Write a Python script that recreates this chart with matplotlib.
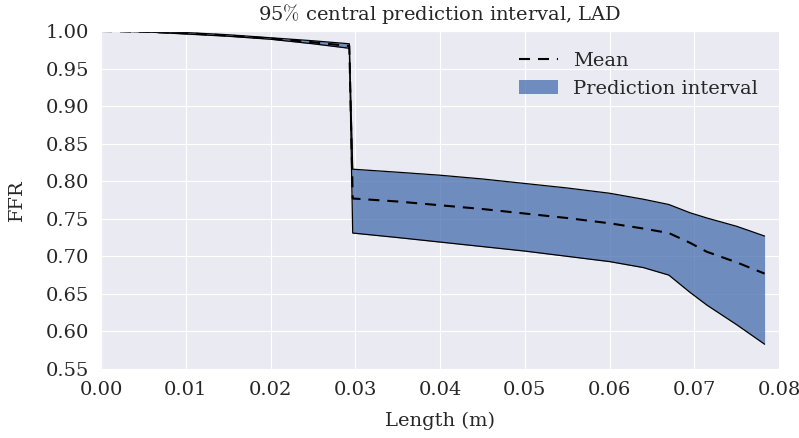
import numpy as np
import matplotlib.pyplot as plt
import seaborn as sns

# FFR along the vessel length: mean and 95% interval bounds
length = [0.0, 0.005, 0.01, 0.015, 0.02, 0.025, 0.0293, 0.0297, 0.035, 0.04,
          0.045, 0.05, 0.055, 0.06, 0.064, 0.067, 0.0695, 0.0715, 0.075, 0.0783]
ffr_mean = [1.0, 0.999, 0.997, 0.994, 0.990, 0.985, 0.980, 0.777, 0.773, 0.768,
            0.763, 0.757, 0.751, 0.744, 0.737, 0.731, 0.718, 0.706, 0.692, 0.677]
ffr_upper = [1.0, 0.999, 0.998, 0.995, 0.991, 0.987, 0.983, 0.816, 0.812, 0.808,
             0.803, 0.797, 0.791, 0.784, 0.776, 0.769, 0.758, 0.751, 0.740, 0.727]
ffr_lower = [1.0, 0.999, 0.996, 0.993, 0.989, 0.983, 0.977, 0.731, 0.725, 0.719,
             0.713, 0.707, 0.700, 0.693, 0.685, 0.675, 0.652, 0.635, 0.609, 0.583]

sns.set_style("darkgrid")
plt.rcParams['font.family'] = ['DejaVu Serif']
plt.rcParams['mathtext.fontset'] = 'cm'

fig = plt.figure(figsize=(7.99, 4.38), dpi=100)
ax = fig.add_axes([101 / 799, 1 - 369 / 438, 678 / 799, 338 / 438])

ax.fill_between(length, ffr_lower, ffr_upper, color='#4C72B0', alpha=0.78,
                linewidth=0, label='Prediction interval')
ax.plot(length, ffr_upper, color='black', linewidth=0.9)
ax.plot(length, ffr_lower, color='black', linewidth=0.9)
ax.plot(length, ffr_mean, color='black', linestyle=(0, (5.3, 3.8)), linewidth=1.5,
        label='Mean')

ax.set_xlim(0, 0.08)
ax.set_ylim(0.55, 1.0)
ax.set_xticks(np.arange(0, 0.081, 0.01))
ax.set_yticks(np.arange(0.55, 1.001, 0.05))
ax.xaxis.set_major_formatter(plt.FormatStrFormatter('%.2f'))
ax.yaxis.set_major_formatter(plt.FormatStrFormatter('%.2f'))
ax.tick_params(labelsize=14, direction='out', length=1.5, pad=7, color='#555555')

ax.set_xlabel('Length (m)', fontsize=14, labelpad=9)
ax.set_ylabel('FFR', fontsize=14, labelpad=14)
ax.set_title('95$\\%$ central prediction interval, LAD', fontsize=14, pad=8)

handles, labels = ax.get_legend_handles_labels()
ax.legend(handles[::-1], labels[::-1], loc='upper right', frameon=False, fontsize=14,
          bbox_to_anchor=(0.995, 0.99))

fig.savefig('out.png', dpi=100)
